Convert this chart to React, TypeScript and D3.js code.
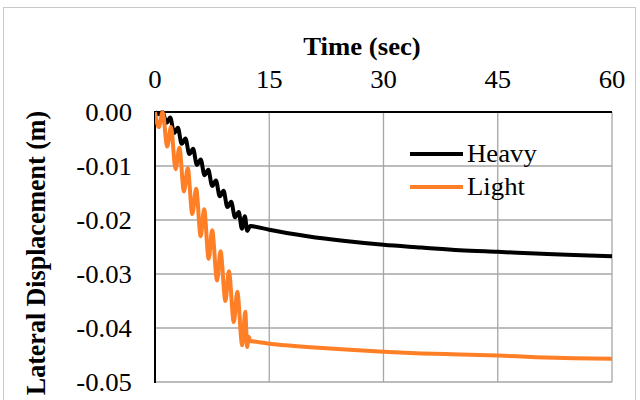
import React from "react";
import * as d3 from "d3";

// ---- data ----
const xTicks = [0, 15, 30, 45, 60];
const yTicks = [0, -0.01, -0.02, -0.03, -0.04, -0.05];
const yTickLabels = ["0.00", "-0.01", "-0.02", "-0.03", "-0.04", "-0.05"];
const seriesNames = ["Heavy", "Light"];

const heavyTime = [0, 0.5, 1.0, 1.5, 2.0, 2.5, 3.0, 3.5, 4.0, 4.5, 5.0, 5.5, 6.0, 6.5, 7.0, 7.5, 8.0, 8.5, 9.0, 9.5, 10.0, 10.5, 11.0, 11.4, 11.8, 12.1, 12.5, 13, 15, 20, 25, 30, 35, 40, 45, 50, 55, 60];
const heavyDisp = [0, -0.0004, 0.0, -0.002, -0.001, -0.0039, -0.0029, -0.0059, -0.0049, -0.0078, -0.0068, -0.0098, -0.0088, -0.0117, -0.0107, -0.0137, -0.0127, -0.0156, -0.0146, -0.0176, -0.0166, -0.0195, -0.0185, -0.0216, -0.0193, -0.022, -0.0211, -0.0212, -0.0218, -0.023, -0.0239, -0.0246, -0.0251, -0.0256, -0.0259, -0.0262, -0.0265, -0.0267];

const lightTime = [0, 0.5, 1.0, 1.6, 2.1, 2.7, 3.2, 3.8, 4.3, 4.9, 5.4, 6.0, 6.45, 7.05, 7.5, 8.15, 8.6, 9.25, 9.7, 10.35, 10.8, 11.45, 11.85, 12.1, 12.3, 12.5, 13, 15, 20, 25, 30, 35, 40, 45, 50, 55, 60];
const lightDisp = [0, -0.0028, 0.0, -0.0064, -0.0028, -0.0106, -0.0066, -0.0147, -0.0104, -0.0189, -0.0142, -0.023, -0.018, -0.0272, -0.0219, -0.0312, -0.0258, -0.035, -0.0295, -0.0389, -0.0333, -0.0432, -0.037, -0.0435, -0.0416, -0.0424, -0.0425, -0.0429, -0.0435, -0.044, -0.0444, -0.0447, -0.0449, -0.0451, -0.0454, -0.0456, -0.0457];

const colors = ["#000000", "#FF7F27"];

export default function App() {
  const W = 640, H = 400;
  const left = 155, right = 612, top = 112, bottom = 382;
  const x = d3.scaleLinear().domain([0, 60]).range([left, right]);
  const y = d3.scaleLinear().domain([0, -0.05]).range([top, bottom]);
  const line = d3
    .line<[number, number]>()
    .x((d) => x(d[0]))
    .y((d) => y(d[1]))
    .curve(d3.curveMonotoneX);
  const heavy: [number, number][] = heavyTime.map((t, i) => [t, heavyDisp[i]]);
  const light: [number, number][] = lightTime.map((t, i) => [t, lightDisp[i]]);
  const font = "'Liberation Serif', 'Times New Roman', serif";
  const fs = 25;
  const sx = 1.07;
  const grid = "#A6A6A6";

  const T = (props: { x: number; y: number; anchor?: string; bold?: boolean; size?: number; children: React.ReactNode; dy?: string }) => (
    <text
      transform={`translate(${props.x},${props.y}) scale(${sx},1)`}
      textAnchor={props.anchor || "start"}
      fontSize={props.size || fs}
      fontWeight={props.bold ? "bold" : "normal"}
      dy={props.dy}
    >
      {props.children}
    </text>
  );

  return (
    <svg width={W} height={H} style={{ position: "absolute", left: 0, top: 0, background: "#fff" }} fontFamily={font}>
      <rect x={3.5} y={7.5} width={632} height={400} fill="#fff" stroke="#C8C8C8" strokeWidth={1} />
      <defs>
        <clipPath id="plotclip">
          <rect x={left} y={top - 2} width={right - left + 2} height={bottom - top + 4} />
        </clipPath>
      </defs>
      {/* grid */}
      {xTicks.filter((t) => t !== 0).map((t) => (
        <line key={"gx" + t} x1={x(t)} x2={x(t)} y1={top} y2={bottom} stroke={grid} strokeWidth={1.3} />
      ))}
      {yTicks.filter((t) => t !== 0).map((t) => (
        <line key={"gy" + t} x1={left} x2={right} y1={y(t)} y2={y(t)} stroke={grid} strokeWidth={1.3} />
      ))}
      {/* axes */}
      <line x1={left} x2={right} y1={top} y2={top} stroke="#000" strokeWidth={2} />
      <line x1={left} x2={left} y1={top - 1} y2={bottom + 1} stroke="#000" strokeWidth={2} />
      {/* series */}
      <g clipPath="url(#plotclip)">
        <path d={line(heavy) || ""} fill="none" stroke={colors[0]} strokeWidth={4} strokeLinejoin="round" />
        <path d={line(light) || ""} fill="none" stroke={colors[1]} strokeWidth={4} strokeLinejoin="round" />
      </g>
      {/* x tick labels */}
      {xTicks.map((t) => (
        <T key={"xl" + t} x={x(t)} y={88} anchor="middle">
          {t}
        </T>
      ))}
      <T x={362} y={55} anchor="middle" bold>
        Time (sec)
      </T>
      {/* y tick labels */}
      {yTicks.map((t, i) => (
        <T key={"yl" + t} x={132} y={y(t)} dy="0.35em" anchor="end">
          {yTickLabels[i]}
        </T>
      ))}
      <text transform={`translate(45, 253) rotate(-90) scale(1,1.07)`} textAnchor="middle" fontSize={26} fontWeight="bold">
        Lateral Displacement (m)
      </text>
      {/* legend */}
      {seriesNames.map((n, i) => (
        <g key={n}>
          <line x1={410} x2={463} y1={154 + i * 33} y2={154 + i * 33} stroke={colors[i]} strokeWidth={4} />
          <T x={467} y={162 + i * 33}>
            {n}
          </T>
        </g>
      ))}
    </svg>
  );
}
